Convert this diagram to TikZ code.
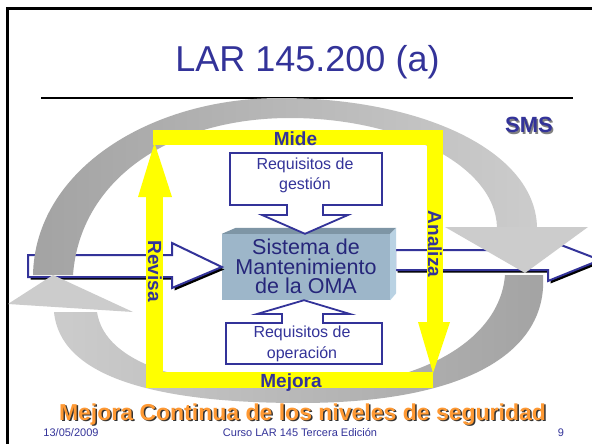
\documentclass[tikz,border=0pt]{standalone}
\usepackage{fontspec}
\setmainfont{Liberation Sans}
\usetikzlibrary{positioning,calc}
\definecolor{lardark}{HTML}{333399}
\definecolor{omablue}{HTML}{26267A}
\definecolor{lemaorange}{HTML}{FF9933}
\definecolor{arcdark}{HTML}{A3A3A3}
\definecolor{arclight}{HTML}{CCCCCC}
\definecolor{cubefront}{HTML}{9DB6C9}
\definecolor{cubetop}{HTML}{7E95A5}
\definecolor{cuberight}{HTML}{B9D2E3}
\definecolor{bandyellow}{HTML}{FFFF00}
\tikzset{
  titletext/.style={anchor=base, inner sep=0pt, text=lardark,
    font=\fontsize{36}{40}\selectfont},
  smstext/.style={inner sep=0pt, text=lardark,
    font=\fontsize{22}{22}\selectfont\bfseries},
  bandlabel/.style={inner sep=0pt, text=lardark,
    font=\fontsize{19}{19}\selectfont\bfseries},
  cubetext/.style={inner sep=0pt, text=omablue, align=center,
    font=\fontsize{21.5}{19.5}\selectfont},
  reqtext/.style={inner sep=0pt, text=lardark, align=center,
    font=\fontsize{16}{20.7}\selectfont},
  reqbox/.style={draw=lardark, line width=1.8pt, fill=white, line join=miter},
  blockarrow/.style={draw=lardark, line width=2pt, fill=white, line join=miter},
  blockshadow/.style={fill=black},
  cubebox/.style={fill=cubefront, inner sep=0pt,
    minimum width=168pt, minimum height=66pt},
  lematext/.style={anchor=base, inner sep=0pt, text=lemaorange,
    font=\fontsize{23}{23}\selectfont\bfseries},
  footer/.style={anchor=base, inner sep=0pt, text=lardark,
    font=\fontsize{11}{11}\selectfont}
}

\begin{document}
\begin{tikzpicture}[x=1pt,y=-1pt]
\useasboundingbox (0,0) rectangle (592,444);
\fill[white] (0,0) rectangle (592,444);

% marco y titulo
\draw[line width=2.5pt] (7.5,444) -- (7.5,8.5) -- (592,8.5);
\node[titletext] (title) at (307.5,71) {LAR 145.200 (a)};
\draw[line width=1.5pt] (41,98) -- (573,98);

% sistema central
\node[cubebox] (oma) at (306,267) {};
\coordinate (backTR) at ($(oma.north east)+(6,-6)$);
\coordinate (backBR) at ($(oma.south east)+(6,-7)$);
\coordinate (backTL) at ($(oma.north west)+(14,-6)$);

% flecha de entrada
\fill[blockshadow] (30.5,257.5) -- (174.5,257.5) -- (174.5,245.5)
  -- ($(oma.west)+(2.5,2.5)$) -- (174.5,290.5) -- (174.5,279.5)
  -- (30.5,279.5) -- cycle;
\draw[blockarrow] (28,255) -- (172,255) -- (172,243) -- (oma.west)
  -- (172,288) -- (172,277) -- (28,277) -- cycle;

% flecha de salida
\fill[blockshadow] (397.5,252.5) -- (550.5,252.5) -- (550.5,242.5)
  -- (602.5,262.5) -- (550.5,283.5) -- (550.5,272.5) -- (397.5,272.5)
  -- cycle;
\draw[blockarrow] (395,250) -- (548,250) -- (548,240) -- (600,260)
  -- (548,281) -- (548,270) -- (395,270) -- cycle;

% ciclo gris, arco superior
\shade[left color=arcdark, middle color=arcdark!75!arclight, right color=arclight]
  (33,275) .. controls (35,170) and (150,98) .. (280,98)
  .. controls (420,98) and (535,150) .. (537,227)
  -- (497,227) .. controls (495,165) and (400,118) .. (290,118)
  .. controls (170,118) and (80,180) .. (73,275) -- cycle;
\fill[arclight] (445,227) -- (588,227) -- (525,273) -- cycle;

% ciclo gris, arco inferior
\shade[left color=arclight, middle color=arclight!60!arcdark, right color=arcdark]
  (543,275) .. controls (548,350) and (470,403) .. (300,403)
  .. controls (150,403) and (60,375) .. (54,312)
  -- (97,312) .. controls (105,365) and (190,388) .. (300,388)
  .. controls (420,388) and (500,340) .. (505,275) -- cycle;
\fill[arclight] (8,304) -- (133,312) -- (53,275) -- cycle;

% marco amarillo
\fill[bandyellow] (153,130) rectangle (443,145);
\fill[bandyellow] (427,130) rectangle (443,322);
\fill[bandyellow] (418,322) -- (450,322) -- (433,373) -- cycle;
\fill[bandyellow] (146,372) rectangle (433,388);
\fill[bandyellow] (146,197) rectangle (163,388);
\fill[bandyellow] (138,197) -- (172,197) -- (154.5,143) -- cycle;

% caras del cubo
\fill[cubetop] (oma.north west) -- (backTL) -- (backTR) -- (oma.north east) -- cycle;
\fill[cuberight] (oma.north east) -- (backTR) -- (backBR) -- (oma.south east) -- cycle;
\node[cubetext] (omatext) at (306,266.7) {Sistema de\\Mantenimiento\\de la OMA};

% requisitos
\draw[reqbox] (230,153) -- (382,153) -- (382,205) -- (323,205) -- (323,215)
  -- (348,215) -- ($(oma.north)+(-1,0)$) -- (262,215) -- (287,215)
  -- (287,205) -- (230,205) -- cycle;
\node[reqtext] (gestion) at (305,175.5) {Requisitos de\\gestión};
\draw[reqbox] (226,323) -- (226,364) -- (382,364) -- (382,323) -- (323,323)
  -- (323,314) -- (350,314) -- ($(oma.south)+(-2,0)$) -- (257,314)
  -- (282,314) -- (282,323) -- cycle;
\node[reqtext] (operacion) at (302,343.8) {Requisitos de\\operación};

% etiquetas del ciclo
\node[bandlabel,anchor=base] (mide) at (295.5,145) {Mide};
\node[bandlabel,anchor=base] (mejora) at (291,387.5) {Mejora};
\node[bandlabel,rotate=-90] (revisa) at (155,271) {Revisa};
\node[bandlabel,rotate=-90] (analiza) at (435,244) {Analiza};
\node[smstext,text=gray] at (530.5,126.5) {SMS};
\node[smstext] (sms) at (529,125) {SMS};

% lema y pie
\node[lematext,text=black!80] at (304,421.5) {Mejora Continua de los niveles de seguridad};
\node[lematext] (lema) at (302.5,420) {Mejora Continua de los niveles de seguridad};
\node[footer] (fecha) at (71,436) {13/05/2009};
\node[footer] (curso) at (300,436) {Curso LAR 145 Tercera Edición};
\node[footer] (pagina) at (561,436) {9};
\end{tikzpicture}
\end{document}
